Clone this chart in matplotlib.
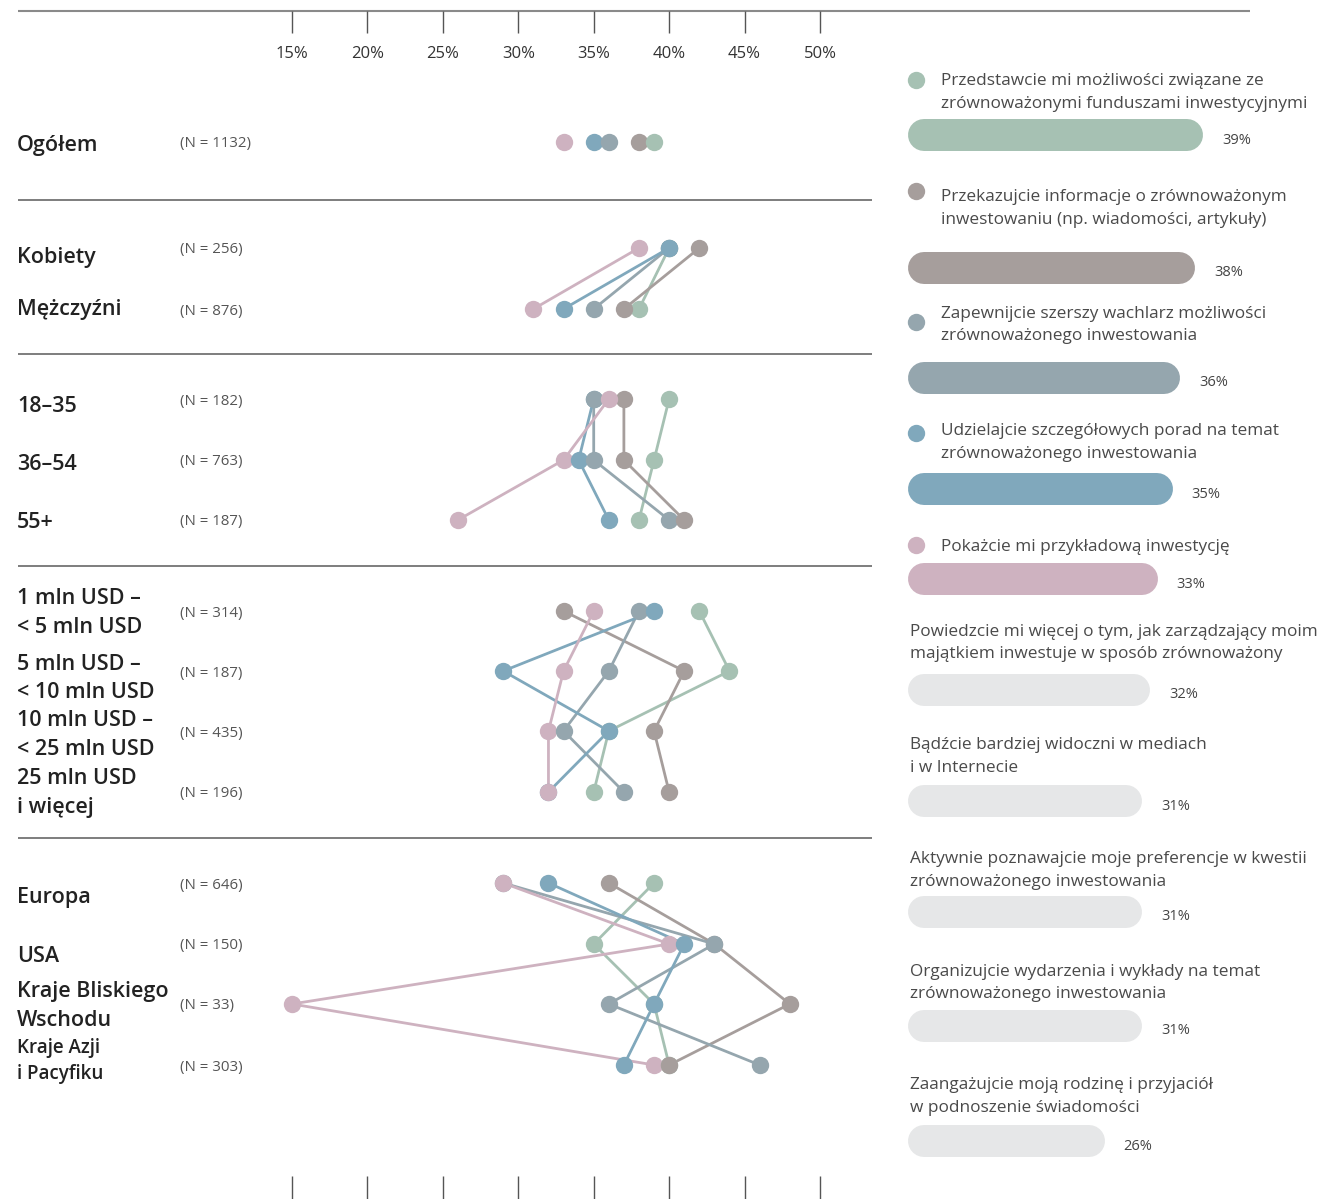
import matplotlib
matplotlib.use("Agg")
import matplotlib.pyplot as plt

# ---------------- data ----------------
row_labels = ["Ogółem", "Kobiety", "Mężczyźni", "18–35", "36–54", "55+",
              "1 mln USD –\n< 5 mln USD", "5 mln USD –\n< 10 mln USD",
              "10 mln USD –\n< 25 mln USD", "25 mln USD\ni więcej",
              "Europa", "USA", "Kraje Bliskiego\nWschodu", "Kraje Azji\ni Pacyfiku"]
row_n = [1132, 256, 876, 182, 763, 187, 314, 187, 435, 196, 646, 150, 33, 303]
groups = [[0], [1, 2], [3, 4, 5], [6, 7, 8, 9], [10, 11, 12, 13]]

series_names = [
    "Przedstawcie mi możliwości związane ze\nzrównoważonymi funduszami inwestycyjnymi",
    "Przekazujcie informacje o zrównoważonym\ninwestowaniu (np. wiadomości, artykuły)",
    "Zapewnijcie szerszy wachlarz możliwości\nzrównoważonego inwestowania",
    "Udzielajcie szczegółowych porad na temat\nzrównoważonego inwestowania",
    "Pokażcie mi przykładową inwestycję",
]
vals_green = [39, 40, 38, 40, 39, 38, 42, 44, 36, 35, 39, 35, 39, 40]
vals_taupe = [38, 42, 37, 37, 37, 41, 33, 41, 39, 40, 36, 43, 48, 40]
vals_gray = [36, 40, 35, 35, 35, 40, 38, 36, 33, 37, 29, 43, 36, 46]
vals_blue = [35, 40, 33, 35, 34, 36, 39, 29, 36, 32, 32, 41, 39, 37]
vals_pink = [33, 38, 31, 36, 33, 26, 35, 33, 32, 32, 29, 40, 15, 39]
series_values = [vals_green, vals_taupe, vals_gray, vals_blue, vals_pink]

other_names = [
    "Powiedzcie mi więcej o tym, jak zarządzający moim\nmajątkiem inwestuje w sposób zrównoważony",
    "Bądźcie bardziej widoczni w mediach\ni w Internecie",
    "Aktywnie poznawajcie moje preferencje w kwestii\nzrównoważonego inwestowania",
    "Organizujcie wydarzenia i wykłady na temat\nzrównoważonego inwestowania",
    "Zaangażujcie moją rodzinę i przyjaciół\nw podnoszenie świadomości",
]
total_colored = [39, 38, 36, 35, 33]
total_other = [32, 31, 31, 31, 26]
tick_values = [15, 20, 25, 30, 35, 40, 45, 50]

# ---------------- style / layout ----------------
colors = ["#a6c1b3", "#a69e9c", "#95a6ae", "#80a8bc", "#ceb2c0"]
light = "#e6e7e8"
W, H = 1325, 1199
FONT = ["Open Sans", "DejaVu Sans"]
plt.rcParams["font.family"] = FONT

row_y = [142, 248, 309, 399, 460, 520, 611, 671, 731, 792, 883, 944, 1004, 1065]
label_y = [145, 258, 310, 406, 465, 523, 599, 664, 721, 779, 897, 956, 992, 1048]
label_small = [False] * 13 + [True]
sep_y = [200, 354, 566, 838]
tie_rank = [0, 1, 2, 3, 4]  # green < taupe < gray < blue < pink
z_bump = {(2, 1): 10, (3, 4): 10, (3, 2): 10}

bar_y_col = [135, 268, 378, 489, 579]
bar_y_oth = [690, 801, 912, 1026, 1141]
leg_dot_y = [80, 191, 322, 433, 545]
leg_txt_y = [81, 197, 314, 431, 547]
oth_txt_y = [632, 745, 859, 972, 1085]

fig = plt.figure(figsize=(W / 100, H / 100), dpi=100)

# background overlay in pixel coordinates
bg = fig.add_axes([0, 0, 1, 1])
bg.set_xlim(0, W)
bg.set_ylim(H, 0)
bg.axis("off")

# left dot-plot axes (x in percent)
px_per = (820 - 292) / 35.0
L0, L1 = 18, 872
ax = fig.add_axes([L0 / W, 0, (L1 - L0) / W, 1])
ax.set_xlim(15 - (292 - L0) / px_per, 15 + (L1 - 292) / px_per)
ax.set_ylim(H, 0)
ax.axis("off")

# top rule and separators
bg.plot([18, 1250], [11, 11], color="#8a8a8a", lw=1.5, solid_capstyle="butt")
for sy in sep_y:
    bg.plot([18, 872], [sy, sy], color="#5a5a5a", lw=1.1, solid_capstyle="butt")

# ticks + labels
ax.vlines(tick_values, 11, 33, color="#555555", lw=1.0)
ax.vlines(tick_values, 1176, 1199, color="#555555", lw=1.0)
for t in tick_values:
    ax.text(t, 54, f"{t}%", ha="center", va="center", fontsize=12, color="#333333")

# row labels
for lab, ly, sm in zip(row_labels, label_y, label_small):
    gap = 26 if sm else 28.5
    for k, line in enumerate(lab.split("\n")):
        bg.text(17, ly + k * gap, line, ha="left", va="center",
                fontsize=13.5 if sm else 15.5, fontweight="semibold", color="#222222")
for n, ry in zip(row_n, row_y):
    bg.text(180, ry + 2, f"(N = {n})", ha="left", va="center", fontsize=10.8,
            color="#555555")

# connecting lines
for vals, c in zip(series_values, colors):
    for g in groups:
        if len(g) > 1:
            ax.plot([vals[i] for i in g], [row_y[i] for i in g], color=c, lw=2.0,
                    zorder=2, solid_capstyle="round")

# dots
for r in range(len(row_y)):
    order = sorted(range(5), key=lambda s: (series_values[s][r], tie_rank[s]))
    for rank, s in enumerate(order):
        z = 3 + rank + z_bump.get((r, s), 0)
        ax.plot(series_values[s][r], row_y[r], "o", ms=12.5, color=colors[s],
                mec="none", zorder=z)

# right bar axes
bpx = (1203 - 908) / 39.0
R0 = 908
rx = fig.add_axes([R0 / W, 0, (W - R0) / W, 1])
rx.set_xlim(0, (W - R0) / bpx)
rx.set_ylim(H, 0)
rx.axis("off")
rad = 16 / bpx
lw_pt = 32 * 0.72


def bar(v, y, c):
    rx.plot([rad, v - rad], [y, y], color=c, lw=lw_pt, solid_capstyle="round")
    rx.text(v + 19 / bpx, y + 5, f"{v}%", ha="left", va="center", fontsize=10.5,
            color="#444444")


for name, v, c, by, dy, ty in zip(series_names, total_colored, colors, bar_y_col,
                                   leg_dot_y, leg_txt_y):
    bg.plot(916, dy, "o", ms=12.5, color=c, mec="none")
    for k, line in enumerate(name.split("\n")):
        bg.text(941, ty + k * 22.5, line, ha="left", va="center", fontsize=12.4,
                color="#4a4a4a")
    bar(v, by, c)

for name, v, by, ty in zip(other_names, total_other, bar_y_oth, oth_txt_y):
    for k, line in enumerate(name.split("\n")):
        bg.text(910, ty + k * 22.5, line, ha="left", va="center", fontsize=12.4,
                color="#4a4a4a")
    bar(v, by, light)

fig.savefig("out.png", dpi=100)
